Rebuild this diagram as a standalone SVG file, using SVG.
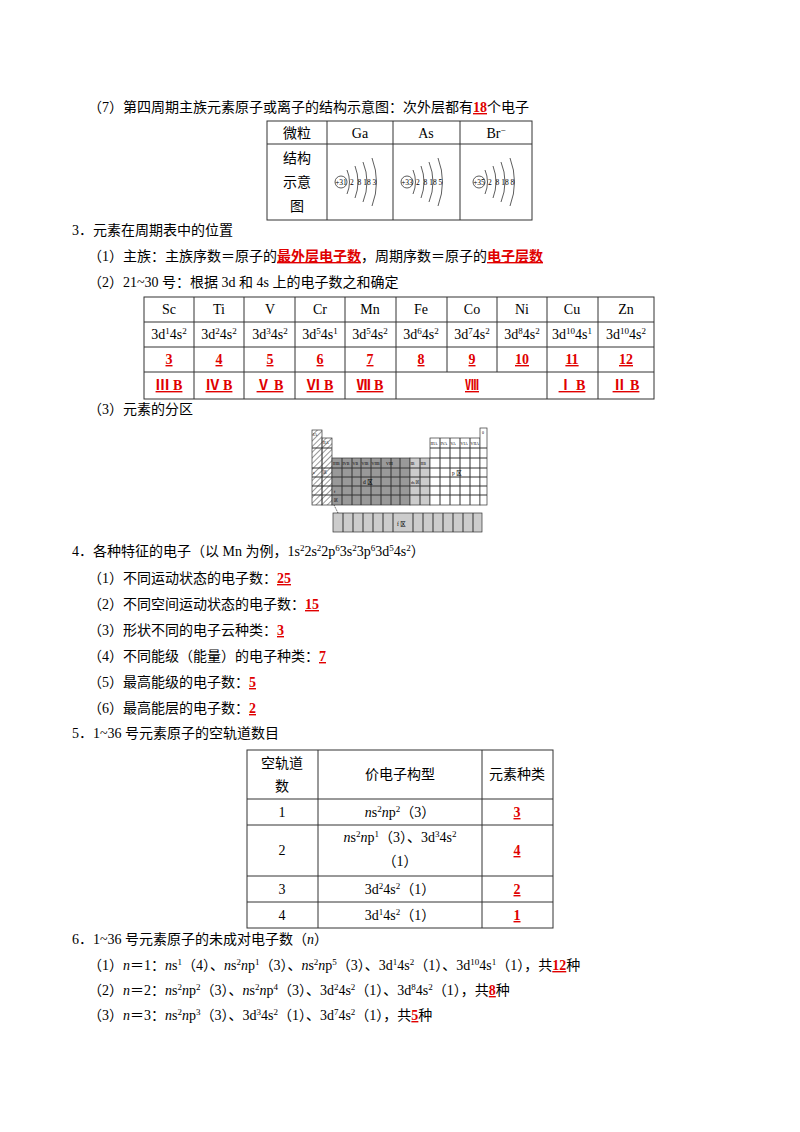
<svg xmlns="http://www.w3.org/2000/svg" width="800" height="1132" viewBox="0 0 800 1132">
<style>
text{font-family:"Liberation Serif","Noto Sans CJK SC",serif;font-size:14px;fill:#000}
.s{font-size:9px}
.r{fill:#e00000;font-weight:bold;text-decoration:underline}
.c{text-anchor:middle}
text.t{font-size:7.5px}
text.p{font-size:4px}
text.q{font-size:5.5px}
line,rect.g{stroke:#333;stroke-width:1}
.arc{fill:none;stroke:#333;stroke-width:0.8}
</style>
<defs>
<pattern id="h" width="4" height="4" patternUnits="userSpaceOnUse" patternTransform="rotate(45)"><line x1="0" y1="0" x2="0" y2="4" stroke="#555" stroke-width="0.7"/></pattern>
<g id="arcs">
<path class="arc" d="M6,-12 Q11,0 6,12"/><path class="arc" d="M14,-16 Q20,0 14,16"/><path class="arc" d="M22,-20 Q30,0 22,20"/><path class="arc" d="M31,-24 Q40,0 31,24"/>
</g>
</defs>
<rect width="800" height="1132" fill="#fff"/>
<g id="sec7">
<text x="88" y="112">（7）第四周期主族元素原子或离子的结构示意图：次外层都有<tspan class="r">18</tspan>个电子</text>
<g fill="none" stroke="#333">
<rect x="267" y="121" width="265" height="99"/>
<line x1="267" y1="144" x2="532" y2="144"/><line x1="327" y1="121" x2="327" y2="220"/><line x1="393" y1="121" x2="393" y2="220"/><line x1="460" y1="121" x2="460" y2="220"/>
</g>
<text x="297" y="138" class="c">微粒</text><text x="360" y="138" class="c">Ga</text><text x="426" y="138" class="c">As</text><text x="496" y="138" class="c">Br<tspan class="s" dy="-5">−</tspan></text>
<text x="297" y="163" class="c">结构</text><text x="297" y="187" class="c">示意</text><text x="297" y="211" class="c">图</text>
<g transform="translate(341,182)"><circle r="6" fill="none" stroke="#333" stroke-width="0.8"/><text class="t c" y="2.5">+31</text><use href="#arcs"/><text class="t" x="9" y="2.5">2 &#160;8 18 3</text></g>
<g transform="translate(407,182)"><circle r="6" fill="none" stroke="#333" stroke-width="0.8"/><text class="t c" y="2.5">+33</text><use href="#arcs"/><text class="t" x="9" y="2.5">2 &#160;8 18 5</text></g>
<g transform="translate(479,182)"><circle r="6" fill="none" stroke="#333" stroke-width="0.8"/><text class="t c" y="2.5">+35</text><use href="#arcs"/><text class="t" x="9" y="2.5">2 &#160;8 18 8</text></g>
</g>
<g id="sec3">
<text x="72" y="235">3．元素在周期表中的位置</text>
<text x="88" y="261">（1）主族：主族序数＝原子的<tspan class="r">最外层电子数</tspan>，周期序数＝原子的<tspan class="r">电子层数</tspan></text>
<text x="88" y="287">（2）21~30 号：根据 3d 和 4s 上的电子数之和确定</text>
<g fill="none" stroke="#333">
<rect x="144" y="297" width="510" height="102"/>
<line x1="144" y1="322" x2="654" y2="322"/><line x1="144" y1="347" x2="654" y2="347"/><line x1="144" y1="372" x2="654" y2="372"/>
<line x1="194" y1="297" x2="194" y2="399"/><line x1="244" y1="297" x2="244" y2="399"/><line x1="295" y1="297" x2="295" y2="399"/><line x1="345" y1="297" x2="345" y2="399"/><line x1="396" y1="297" x2="396" y2="399"/>
<line x1="447" y1="297" x2="447" y2="372"/><line x1="497" y1="297" x2="497" y2="372"/>
<line x1="547" y1="297" x2="547" y2="399"/><line x1="598" y1="297" x2="598" y2="399"/>
</g>
<text x="169" y="314" class="c">Sc</text><text x="219" y="314" class="c">Ti</text><text x="270" y="314" class="c">V</text><text x="320" y="314" class="c">Cr</text><text x="370" y="314" class="c">Mn</text><text x="421" y="314" class="c">Fe</text><text x="472" y="314" class="c">Co</text><text x="522" y="314" class="c">Ni</text><text x="572" y="314" class="c">Cu</text><text x="626" y="314" class="c">Zn</text>
<text x="169" y="339" class="c">3d<tspan class="s" dy="-5">1</tspan><tspan dy="5">4s</tspan><tspan class="s" dy="-5">2</tspan></text>
<text x="219" y="339" class="c">3d<tspan class="s" dy="-5">2</tspan><tspan dy="5">4s</tspan><tspan class="s" dy="-5">2</tspan></text>
<text x="270" y="339" class="c">3d<tspan class="s" dy="-5">3</tspan><tspan dy="5">4s</tspan><tspan class="s" dy="-5">2</tspan></text>
<text x="320" y="339" class="c">3d<tspan class="s" dy="-5">5</tspan><tspan dy="5">4s</tspan><tspan class="s" dy="-5">1</tspan></text>
<text x="370" y="339" class="c">3d<tspan class="s" dy="-5">5</tspan><tspan dy="5">4s</tspan><tspan class="s" dy="-5">2</tspan></text>
<text x="421" y="339" class="c">3d<tspan class="s" dy="-5">6</tspan><tspan dy="5">4s</tspan><tspan class="s" dy="-5">2</tspan></text>
<text x="472" y="339" class="c">3d<tspan class="s" dy="-5">7</tspan><tspan dy="5">4s</tspan><tspan class="s" dy="-5">2</tspan></text>
<text x="522" y="339" class="c">3d<tspan class="s" dy="-5">8</tspan><tspan dy="5">4s</tspan><tspan class="s" dy="-5">2</tspan></text>
<text x="572" y="339" class="c">3d<tspan class="s" dy="-5">10</tspan><tspan dy="5">4s</tspan><tspan class="s" dy="-5">1</tspan></text>
<text x="626" y="339" class="c">3d<tspan class="s" dy="-5">10</tspan><tspan dy="5">4s</tspan><tspan class="s" dy="-5">2</tspan></text>
<text x="169" y="364" class="c r">3</text><text x="219" y="364" class="c r">4</text><text x="270" y="364" class="c r">5</text><text x="320" y="364" class="c r">6</text><text x="370" y="364" class="c r">7</text><text x="421" y="364" class="c r">8</text><text x="472" y="364" class="c r">9</text><text x="522" y="364" class="c r">10</text><text x="572" y="364" class="c r">11</text><text x="626" y="364" class="c r">12</text>
<text x="169" y="390" class="c r">Ⅲ B</text><text x="219" y="390" class="c r">Ⅳ B</text><text x="270" y="390" class="c r">Ⅴ B</text><text x="320" y="390" class="c r">Ⅵ B</text><text x="370" y="390" class="c r">Ⅶ B</text><text x="472" y="390" class="c r">Ⅷ</text><text x="572" y="390" class="c r">Ⅰ B</text><text x="626" y="390" class="c r">Ⅱ B</text>
<text x="88" y="414">（3）元素的分区</text>
</g>
<g id="periodic">
<rect x="312" y="430" width="10" height="75" fill="url(#h)" stroke="#333" stroke-width="0.7"/>
<rect x="322" y="438" width="10" height="67" fill="url(#h)" stroke="#333" stroke-width="0.7"/>
<rect x="332" y="458" width="78" height="47" fill="#999" stroke="#333" stroke-width="0.7"/>
<rect x="410" y="458" width="20" height="47" fill="#ccc" stroke="#333" stroke-width="0.7"/>
<rect x="430" y="438" width="50" height="67" fill="#fff" stroke="#333" stroke-width="0.7"/>
<rect x="480" y="428" width="7" height="77" fill="#fff" stroke="#333" stroke-width="0.7"/>
<rect x="333" y="513" width="149" height="19" fill="#ccc" stroke="#333" stroke-width="0.7"/>
<g stroke="#444" stroke-width="0.6">
<line x1="312" y1="448" x2="332" y2="448"/><line x1="312" y1="468" x2="487" y2="468"/><line x1="312" y1="477" x2="487" y2="477"/><line x1="312" y1="486" x2="487" y2="486"/><line x1="312" y1="495" x2="487" y2="495"/><line x1="430" y1="448" x2="487" y2="448"/><line x1="430" y1="458" x2="487" y2="458"/>
<line x1="342" y1="458" x2="342" y2="505"/><line x1="352" y1="458" x2="352" y2="505"/><line x1="361" y1="458" x2="361" y2="505"/><line x1="371" y1="458" x2="371" y2="505"/><line x1="381" y1="458" x2="381" y2="505"/><line x1="391" y1="458" x2="391" y2="505"/><line x1="400" y1="458" x2="400" y2="505"/><line x1="420" y1="458" x2="420" y2="505"/>
<line x1="440" y1="438" x2="440" y2="505"/><line x1="450" y1="438" x2="450" y2="505"/><line x1="460" y1="438" x2="460" y2="505"/><line x1="470" y1="438" x2="470" y2="505"/>
<line x1="343" y1="513" x2="343" y2="532"/><line x1="353" y1="513" x2="353" y2="532"/><line x1="363" y1="513" x2="363" y2="532"/><line x1="373" y1="513" x2="373" y2="532"/><line x1="383" y1="513" x2="383" y2="532"/><line x1="393" y1="513" x2="393" y2="532"/><line x1="413" y1="513" x2="413" y2="532"/><line x1="423" y1="513" x2="423" y2="532"/><line x1="433" y1="513" x2="433" y2="532"/><line x1="443" y1="513" x2="443" y2="532"/><line x1="453" y1="513" x2="453" y2="532"/><line x1="463" y1="513" x2="463" y2="532"/><line x1="473" y1="513" x2="473" y2="532"/>
<line x1="334" y1="505" x2="338" y2="513" stroke-dasharray="1,1"/>
</g>
<text class="p" x="313" y="436">IA</text><text class="p" x="323" y="444">IIA</text>
<text class="p" x="333" y="465">IIIB</text><text class="p" x="342.5" y="465">IVB</text><text class="p" x="352.5" y="465">VB</text><text class="p" x="361.5" y="465">VIB</text><text class="p" x="371.5" y="465">VIIB</text><text class="p" x="386" y="465">VIII</text><text class="p" x="410.5" y="465">IB</text><text class="p" x="420.5" y="465">IIB</text>
<text class="p" x="430.5" y="445">IIIA</text><text class="p" x="440.5" y="445">IVA</text><text class="p" x="450.5" y="445">VA</text><text class="p" x="460.5" y="445">VIA</text><text class="p" x="470.5" y="445">VIIA</text><text class="p" x="482" y="434">0</text>
<text class="p" x="313" y="474">s</text><text class="p" x="323" y="474">区</text><text class="q" x="363" y="484">d 区</text><text class="p" x="411" y="484">ds 区</text><text class="q" x="452" y="475">p 区</text><text class="p" x="334" y="493">f</text><text class="p" x="334" y="502">区</text><text class="q" x="397" y="526">f 区</text>
</g>
<g id="sec4">
<text x="72" y="556">4．各种特征的电子（以 Mn 为例，1s<tspan class="s" dy="-5">2</tspan><tspan dy="5">2s</tspan><tspan class="s" dy="-5">2</tspan><tspan dy="5">2p</tspan><tspan class="s" dy="-5">6</tspan><tspan dy="5">3s</tspan><tspan class="s" dy="-5">2</tspan><tspan dy="5">3p</tspan><tspan class="s" dy="-5">6</tspan><tspan dy="5">3d</tspan><tspan class="s" dy="-5">5</tspan><tspan dy="5">4s</tspan><tspan class="s" dy="-5">2</tspan><tspan dy="5">）</tspan></text>
<text x="88" y="583">（1）不同运动状态的电子数：<tspan class="r">25</tspan></text>
<text x="88" y="609">（2）不同空间运动状态的电子数：<tspan class="r">15</tspan></text>
<text x="88" y="635">（3）形状不同的电子云种类：<tspan class="r">3</tspan></text>
<text x="88" y="661">（4）不同能级（能量）的电子种类：<tspan class="r">7</tspan></text>
<text x="88" y="687">（5）最高能级的电子数：<tspan class="r">5</tspan></text>
<text x="88" y="713">（6）最高能层的电子数：<tspan class="r">2</tspan></text>
</g>
<g id="sec5">
<text x="72" y="738">5．1~36 号元素原子的空轨道数目</text>
<g fill="none" stroke="#333">
<rect x="247" y="750" width="306" height="178"/>
<line x1="247" y1="799" x2="553" y2="799"/><line x1="247" y1="825" x2="553" y2="825"/><line x1="247" y1="876" x2="553" y2="876"/><line x1="247" y1="902" x2="553" y2="902"/>
<line x1="318" y1="750" x2="318" y2="928"/><line x1="482" y1="750" x2="482" y2="928"/>
</g>
<text x="282" y="768" class="c">空轨道</text><text x="282" y="791" class="c">数</text>
<text x="400" y="779" class="c">价电子构型</text><text x="517" y="779" class="c">元素种类</text>
<text x="282" y="817" class="c">1</text><text x="282" y="855" class="c">2</text><text x="282" y="894" class="c">3</text><text x="282" y="920" class="c">4</text>
<text x="400" y="817" class="c"><tspan font-style="italic">n</tspan>s<tspan class="s" dy="-5">2</tspan><tspan dy="5" font-style="italic">n</tspan>p<tspan class="s" dy="-5">2</tspan><tspan dy="5">（3）</tspan></text>
<text x="400" y="842" class="c"><tspan font-style="italic">n</tspan>s<tspan class="s" dy="-5">2</tspan><tspan dy="5" font-style="italic">n</tspan>p<tspan class="s" dy="-5">1</tspan><tspan dy="5">（3）、3d</tspan><tspan class="s" dy="-5">3</tspan><tspan dy="5">4s</tspan><tspan class="s" dy="-5">2</tspan></text>
<text x="400" y="866" class="c">（1）</text>
<text x="400" y="894" class="c">3d<tspan class="s" dy="-5">2</tspan><tspan dy="5">4s</tspan><tspan class="s" dy="-5">2</tspan><tspan dy="5">（1）</tspan></text>
<text x="400" y="920" class="c">3d<tspan class="s" dy="-5">1</tspan><tspan dy="5">4s</tspan><tspan class="s" dy="-5">2</tspan><tspan dy="5">（1）</tspan></text>
<text x="517" y="817" class="c r">3</text><text x="517" y="855" class="c r">4</text><text x="517" y="894" class="c r">2</text><text x="517" y="920" class="c r">1</text>
</g>
<g id="sec6">
<text x="72" y="944">6．1~36 号元素原子的未成对电子数（<tspan font-style="italic">n</tspan>）</text>
<text x="88" y="970">（1）<tspan font-style="italic">n</tspan>＝1：<tspan font-style="italic">n</tspan>s<tspan class="s" dy="-5">1</tspan><tspan dy="5">（4）、</tspan><tspan font-style="italic">n</tspan>s<tspan class="s" dy="-5">2</tspan><tspan dy="5" font-style="italic">n</tspan>p<tspan class="s" dy="-5">1</tspan><tspan dy="5">（3）、</tspan><tspan font-style="italic">n</tspan>s<tspan class="s" dy="-5">2</tspan><tspan dy="5" font-style="italic">n</tspan>p<tspan class="s" dy="-5">5</tspan><tspan dy="5">（3）、3d</tspan><tspan class="s" dy="-5">1</tspan><tspan dy="5">4s</tspan><tspan class="s" dy="-5">2</tspan><tspan dy="5">（1）、3d</tspan><tspan class="s" dy="-5">10</tspan><tspan dy="5">4s</tspan><tspan class="s" dy="-5">1</tspan><tspan dy="5">（1），共</tspan><tspan class="r">12</tspan>种</text>
<text x="88" y="995">（2）<tspan font-style="italic">n</tspan>＝2：<tspan font-style="italic">n</tspan>s<tspan class="s" dy="-5">2</tspan><tspan dy="5" font-style="italic">n</tspan>p<tspan class="s" dy="-5">2</tspan><tspan dy="5">（3）、</tspan><tspan font-style="italic">n</tspan>s<tspan class="s" dy="-5">2</tspan><tspan dy="5" font-style="italic">n</tspan>p<tspan class="s" dy="-5">4</tspan><tspan dy="5">（3）、3d</tspan><tspan class="s" dy="-5">2</tspan><tspan dy="5">4s</tspan><tspan class="s" dy="-5">2</tspan><tspan dy="5">（1）、3d</tspan><tspan class="s" dy="-5">8</tspan><tspan dy="5">4s</tspan><tspan class="s" dy="-5">2</tspan><tspan dy="5">（1），共</tspan><tspan class="r">8</tspan>种</text>
<text x="88" y="1020">（3）<tspan font-style="italic">n</tspan>＝3：<tspan font-style="italic">n</tspan>s<tspan class="s" dy="-5">2</tspan><tspan dy="5" font-style="italic">n</tspan>p<tspan class="s" dy="-5">3</tspan><tspan dy="5">（3）、3d</tspan><tspan class="s" dy="-5">3</tspan><tspan dy="5">4s</tspan><tspan class="s" dy="-5">2</tspan><tspan dy="5">（1）、3d</tspan><tspan class="s" dy="-5">7</tspan><tspan dy="5">4s</tspan><tspan class="s" dy="-5">2</tspan><tspan dy="5">（1），共</tspan><tspan class="r">5</tspan>种</text>
</g>
</svg>
